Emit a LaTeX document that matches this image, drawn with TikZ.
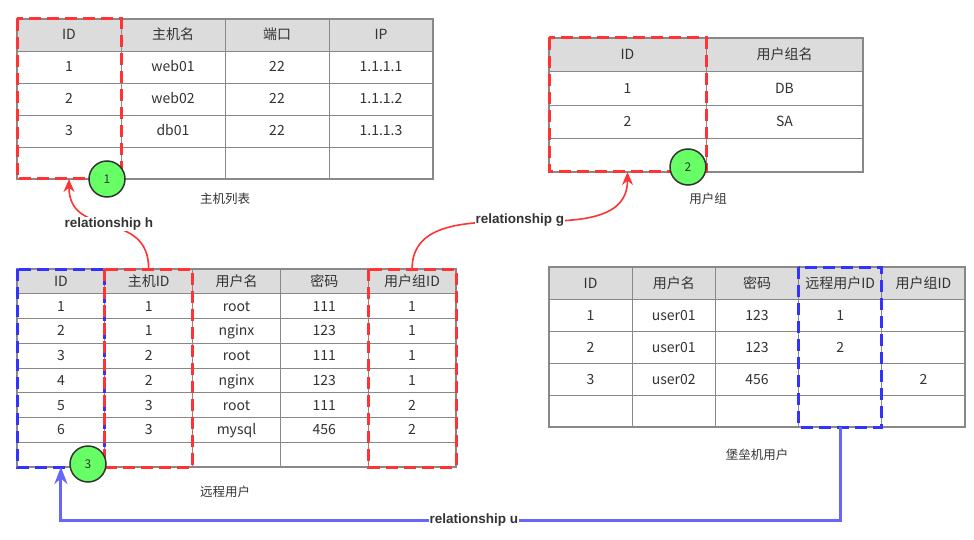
\documentclass[tikz,border=0pt]{standalone}
\usepackage{fontspec}
\setmainfont{Noto Sans CJK SC}
\newfontfamily\relfont{Liberation Sans}
\usetikzlibrary{arrows.meta}
\definecolor{gridgray}{HTML}{888888}
\definecolor{headgray}{HTML}{DCDCDC}
\definecolor{textgray}{HTML}{333333}
\definecolor{hlred}{HTML}{FF3333}
\definecolor{hlblue}{HTML}{3333FF}
\definecolor{linkblue}{HTML}{6666FF}
\definecolor{badgegreen}{HTML}{66FF66}
\tikzset{
  % Table cell
  cell/.style={draw=gridgray, line width=0.8pt, inner sep=0pt, outer sep=0pt,
    text height=10pt, text depth=0pt, text=textgray,
    font=\fontsize{14}{16}\selectfont},
  % Outer frame of a table
  tableframe/.style={draw=gridgray, line width=2pt},
  % Highlighted columns
  redbox/.style={draw=hlred, line width=3pt, dash pattern=on 12pt off 6pt},
  bluebox/.style={draw=hlblue, line width=3pt, dash pattern=on 12pt off 6pt},
  % Numbered badge
  badge/.style={draw=black!80, fill=badgegreen, shape=circle, line width=1.5pt,
    minimum size=36pt, inner sep=0pt, text=textgray, font=\fontsize{12}{14}\selectfont},
  % Table title
  tabletitle/.style={text=textgray, font=\fontsize{12.5}{15}\selectfont},
  % Relationship label
  rel/.style={fill=white, inner sep=1pt, text=textgray,
    font=\relfont\bfseries\fontsize{13.5}{16}\selectfont},
  % Links
  redlink/.style={draw=hlred, line width=1.6pt, -{Stealth[length=13pt, width=11pt]}},
  bluelink/.style={draw=linkblue, line width=3pt, -{Stealth[length=17pt, width=13pt]}},
}

\begin{document}
\begin{tikzpicture}[x=1pt, y=-1pt]
  \useasboundingbox (0,0) rectangle (974,540);

  % 主机列表
  \foreach \row [count=\i] in {{ID,主机名,端口,IP},{1,web01,22,1.1.1.1},
      {2,web02,22,1.1.1.2},{3,db01,22,1.1.1.3},{{},{},{},{}}}
    \foreach \val [count=\j] in \row {
      \ifnum\i=1 \def\cf{headgray}\else\def\cf{white}\fi
      \node[cell, minimum width=104pt, minimum height=32pt, fill=\cf]
        (h-\i-\j) at (17+104*\j-52, 19+32*\i-16) {\val};
    }
  \draw[tableframe] (h-1-1.north west) rectangle (h-5-4.south east);

  % 用户组
  \foreach \row [count=\i] in {{ID,用户组名},{1,DB},{2,SA},{{},{}}}
    \foreach \val [count=\j] in \row {
      \ifnum\i=1 \def\cf{headgray}\else\def\cf{white}\fi
      \node[cell, minimum width=157pt, minimum height=33.5pt, fill=\cf]
        (g-\i-\j) at (549+157*\j-78.5, 38+33.5*\i-16.75) {\val};
    }
  \draw[tableframe] (g-1-1.north west) rectangle (g-4-2.south east);

  % 远程用户
  \foreach \row [count=\i] in {{ID,主机ID,用户名,密码,用户组ID},{1,1,root,111,1},
      {2,1,nginx,123,1},{3,2,root,111,1},{4,2,nginx,123,1},{5,3,root,111,2},
      {6,3,mysql,456,2},{{},{},{},{},{}}}
    \foreach \val [count=\j] in \row {
      \ifnum\i=1 \def\cf{headgray}\else\def\cf{white}\fi
      \node[cell, minimum width=87.8pt, minimum height=24.75pt, fill=\cf]
        (r-\i-\j) at (17+87.8*\j-43.9, 269+24.75*\i-12.375) {\val};
    }
  \draw[tableframe] (r-1-1.north west) rectangle (r-8-5.south east);

  % 堡垒机用户
  \foreach \row [count=\i] in {{ID,用户名,密码,远程用户ID,用户组ID},
      {1,user01,123,1,{}},{2,user01,123,2,{}},{3,user02,456,{},2},{{},{},{},{},{}}}
    \foreach \val [count=\j] in \row {
      \ifnum\i=1 \def\cf{headgray}\else\def\cf{white}\fi
      \node[cell, minimum width=83.2pt, minimum height=32pt, fill=\cf]
        (k-\i-\j) at (549+83.2*\j-41.6, 267+32*\i-16) {\val};
    }
  \draw[tableframe] (k-1-1.north west) rectangle (k-5-5.south east);

  % highlighted columns
  \draw[redbox] (h-1-1.north west) rectangle (h-5-1.south east);
  \draw[redbox] (g-1-1.north west) rectangle (g-4-1.south east);
  \draw[bluebox] (r-1-1.north west) rectangle (r-8-1.south east);
  \draw[redbox] (r-1-2.north west) rectangle (r-8-2.south east);
  \draw[redbox] (r-1-5.north west) rectangle (r-8-5.south east);
  \draw[bluebox] (k-1-4.north west) rectangle (k-5-4.south east);

  % table titles
  \node[tabletitle] (t-host) at (225,199) {主机列表};
  \node[tabletitle] (t-group) at (708,199) {用户组};
  \node[tabletitle] (t-remote) at (225,492) {远程用户};
  \node[tabletitle] (t-bastion) at (757,455) {堡垒机用户};

  % relationships
  \draw[redlink] (r-1-2.north) to[out=90, in=-90, looseness=1.3]
    node[rel] {relationship h} (h-5-1.south);
  \draw[redlink] (r-1-5.north) to[out=90, in=-90]
    node[rel] {relationship g} (g-4-1.south);
  \coordinate (u-low) at (0,520);
  \draw[bluelink] (k-5-4.south) -- (k-5-4.south |- u-low)
    -- node[rel, pos=0.47] {relationship u} (r-8-1.south |- u-low)
    -- (r-8-1.south);

  % badges
  \node[badge] (b-1) at (107,179) {1};
  \node[badge] (b-2) at (688,167) {2};
  \node[badge] (b-3) at (88,464) {3};
\end{tikzpicture}
\end{document}
